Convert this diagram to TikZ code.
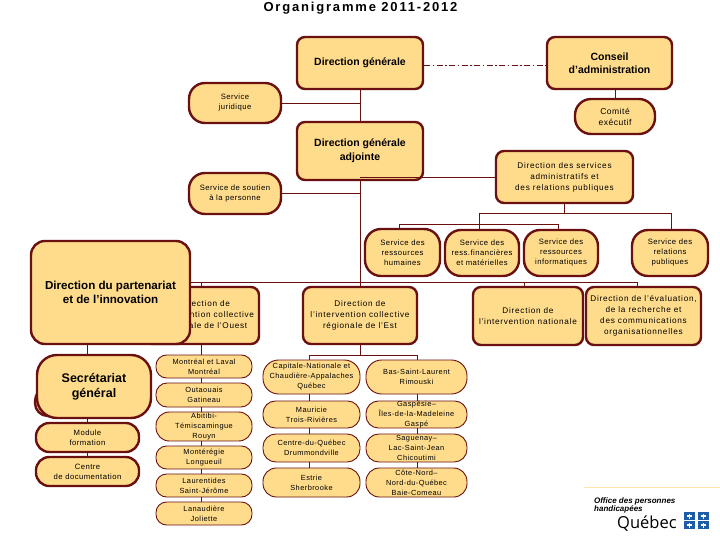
\documentclass[tikz,border=0pt]{standalone}
\usepackage{fontspec}
\setmainfont{Liberation Sans}
\newfontfamily\smallsp[LetterSpace=6]{Liberation Sans}
\newfontfamily\dirsp[LetterSpace=9]{Liberation Sans}
\newfontfamily\titlesp[LetterSpace=14]{Liberation Sans}
\newfontfamily\qcfont{Open Sans}
\definecolor{fillc}{HTML}{FFDC8C}
\definecolor{edgec}{HTML}{6B1010}
\definecolor{qcblue}{HTML}{1F5CA8}
\newcommand{\bx}[7]{%
  \pgfmathsetmacro\cxx{(#2+#4)/2}\pgfmathsetmacro\cyy{(#3+#5)/2}%
  \pgfmathsetmacro\ww{#4-#2}\pgfmathsetmacro\hh{#5-#3}%
  \pgfmathsetmacro\rr{0.46*\hh}%
  \node[#6,minimum width=\ww pt,minimum height=\hh pt] (#1) at (\cxx,\cyy) {#7};}
\tikzset{
  base/.style={draw=edgec,fill=fillc,align=center,inner sep=0pt,text=black},
  big/.style={base,line width=2.4pt,rounded corners=8pt,font=\bfseries\fontsize{10.5}{13.5}\selectfont},
  dirbox/.style={base,line width=2.4pt,rounded corners=8pt,font=\dirsp\fontsize{8.2}{11}\selectfont},
  svc/.style={base,line width=2.4pt,rounded corners=16pt,font=\smallsp\fontsize{7.7}{10}\selectfont},
  pill/.style={base,line width=2.4pt,rounded corners=\rr pt,font=\smallsp\fontsize{7.7}{10}\selectfont},
  thin pill/.style={base,line width=0.9pt,rounded corners=\rr pt,font=\smallsp\fontsize{7.4}{10}\selectfont},
  link/.style={draw=edgec,line width=0.9pt},
}
\begin{document}
\begin{tikzpicture}[x=1pt,y=-1pt]
\useasboundingbox (0,0) rectangle (720,540);
\fill[white] (0,0) rectangle (720,540);
\node[font=\titlesp\bfseries\fontsize{13}{14}\selectfont,inner sep=0pt] (title) at (360.5,8) {Organigramme 2011-2012};
% top
\bx{dg}{297}{37}{423}{89}{big}{Direction générale}
\bx{ca}{547}{37}{672}{89}{big}{Conseil\\d’administration}
\bx{sj}{189}{83}{281}{123}{svc}{Service\\juridique}
\bx{ce}{575}{99}{655}{134}{pill,font=\smallsp\fontsize{8.5}{11}\selectfont}{Comité\\exécutif}
\bx{dga}{297}{122}{423}{180}{big,font=\bfseries\fontsize{10.5}{14}\selectfont}{Direction générale\\adjointe}
\bx{sp}{189}{173}{281}{214}{svc}{Service de soutien\\à la personne}
\bx{dadm}{496}{151}{633}{203}{dirbox}{Direction des services\\administratifs et\\des relations publiques}
% services
\bx{srh}{365}{229}{440}{276}{svc}{Service des\\ressources\\humaines}
\bx{srf}{445}{230}{519}{276}{svc}{Service des\\ress.financières\\et matérielles}
\bx{sri}{524}{230}{598}{276}{svc}{Service des\\ressources\\informatiques}
\bx{srp}{632}{230}{708}{276}{svc}{Service des\\relations\\publiques}
% directions
\bx{dest}{303}{287}{417}{344}{dirbox}{Direction de\\l’intervention collective\\régionale de l’Est}
\bx{dnat}{473}{287}{583}{345}{dirbox}{Direction de\\l’intervention nationale}
\bx{deval}{586}{287}{701}{345}{dirbox}{Direction de l’évaluation,\\de la recherche et\\des communications\\organisationnelles}
\bx{dou}{144}{287}{259}{344}{dirbox}{\hspace*{6pt}Direction de\\\hspace*{6pt}l’intervention collective\\\hspace*{6pt}régionale de l’Ouest}
\bx{dpart}{31}{241}{190}{344}{big,rounded corners=14pt,font=\bfseries\fontsize{11.6}{14}\selectfont}{Direction du partenariat\\et de l’innovation}
% left column
\bx{hid}{35}{388}{110}{416}{pill}{}
\bx{sec}{37}{355}{151}{418}{base,line width=2.4pt,rounded corners=20pt,font=\bfseries\fontsize{12.5}{15}\selectfont}{Secrétariat\\général}
\bx{mod}{36}{423}{139}{452}{pill}{Module\\formation}
\bx{doc}{36}{457}{139}{486}{pill}{Centre\\de documentation}
% Ouest
\bx{o1}{156}{355}{252}{378}{thin pill}{Montréal et Laval\\Montréal}
\bx{o2}{156}{383}{252}{407}{thin pill}{Outaouais\\Gatineau}
\bx{o3}{156}{412}{252}{441}{thin pill}{Abitibi-\\Témiscamingue\\Rouyn}
\bx{o4}{156}{446}{252}{469}{thin pill}{Montérégie\\Longueuil}
\bx{o5}{156}{474}{252}{497}{thin pill}{Laurentides\\Saint-Jérôme}
\bx{o6}{156}{502}{252}{525}{thin pill}{Lanaudière\\Joliette}
% Est
\bx{e1}{263}{360}{360}{394}{thin pill}{Capitale-Nationale et\\Chaudière-Appalaches\\Québec}
\bx{e2}{263}{401}{360}{428}{thin pill}{Mauricie\\Trois-Rivières}
\bx{e3}{263}{434}{360}{462}{thin pill}{Centre-du-Québec\\Drummondville}
\bx{e4}{263}{468}{360}{497}{thin pill}{Estrie\\Sherbrooke}
\bx{f1}{366}{360}{467}{394}{thin pill}{Bas-Saint-Laurent\\Rimouski}
\bx{f2}{366}{401}{467}{428}{thin pill}{Gaspésie–\\Îles-de-la-Madeleine\\Gaspé}
\bx{f3}{366}{434}{467}{462}{thin pill}{Saguenay–\\Lac-Saint-Jean\\Chicoutimi}
\bx{f4}{366}{468}{467}{497}{thin pill}{Côte-Nord–\\Nord-du-Québec\\Baie-Comeau}
% junctions
\coordinate (main) at (360,0);
\coordinate (busA) at (479,213);
\coordinate (busAr) at (671,213);
\coordinate (busAd) at (564,213);
\coordinate (busB) at (399,224);
\coordinate (busBr) at (558,224);
\coordinate (busC) at (201,282);
\coordinate (busCr) at (637,282);
\coordinate (busCn) at (524,282);
\coordinate (busE) at (309,355);
\coordinate (busEr) at (417,355);
\coordinate (lc) at (87,0);
% connectors
\draw[link,dash pattern=on 6pt off 2.5pt on 1.5pt off 2.5pt] (dg.east |- 0,65) -- (ca.west |- 0,65);
\draw[link] (ca.south -| ce.north) -- (ce.north);
\draw[link] (main |- dg.south) -- (main |- dga.north);
\draw[link] (sj.east) -- (main |- sj.east);
\draw[link] (main |- dga.south) -- (main |- dest.north);
\draw[link] (sp.east) -- (main |- sp.east);
\draw[link] (main |- dadm.west) -- (dadm.west);
\draw[link] (busAd |- dadm.south) -- (busAd);
\draw[link] (busA) -- (busAr) -- (busAr |- srp.north);
\draw[link] (busA) -- (busA |- srf.north);
\draw[link] (busB |- srh.north) -- (busB) -- (busBr) -- (busBr |- sri.north);
\draw[link] (dpart.east |- busC) -- (busCr) -- (busCr |- deval.north);
\draw[link] (busCn) -- (busCn |- dnat.north);
\draw[link] (busC) -- (busC |- dou.north);
\draw[link] (busC |- dou.south) -- (busC |- o1.north);
\draw[link] (busC |- o1.south) -- (busC |- o2.north);
\draw[link] (busC |- o2.south) -- (busC |- o3.north);
\draw[link] (busC |- o3.south) -- (busC |- o4.north);
\draw[link] (busC |- o4.south) -- (busC |- o5.north);
\draw[link] (busC |- o5.south) -- (busC |- o6.north);
\draw[link] (lc |- dpart.south) -- (lc |- sec.north);
\draw[link] (lc |- sec.south) -- (lc |- mod.north);
\draw[link] (lc |- mod.south) -- (lc |- doc.north);
\draw[link] (main |- dest.south) -- (main |- busE);
\draw[link] (busE |- e1.north) -- (busE) -- (busEr) -- (busEr |- f1.north);
\draw[link] (busE |- e1.south) -- (busE |- e2.north);
\draw[link] (busE |- e2.south) -- (busE |- e3.north);
\draw[link] (busE |- e3.south) -- (busE |- e4.north);
\draw[link] (busEr |- f1.south) -- (busEr |- f2.north);
\draw[link] (busEr |- f2.south) -- (busEr |- f3.north);
\draw[link] (busEr |- f3.south) -- (busEr |- f4.north);
% logo
\draw[draw=fillc!70!white,line width=0.8pt] (584,487) -- (720,487);
\node[anchor=west,align=left,inner sep=0pt,font=\bfseries\itshape\fontsize{8}{7.5}\selectfont] (off) at (594,505.5) {Office des personnes\\handicapées};
\node[anchor=base west,inner sep=0pt,font=\qcfont\fontsize{16.5}{20}\selectfont] (qc) at (617,528) {Québec};
\foreach \fx/\fy in {684/512,698/512,684/521,698/521}{
  \fill[qcblue] (\fx,\fy) rectangle ++(11,8);
  \fill[white] (\fx+5,\fy+1.5) rectangle ++(1.4,5);
  \fill[white] (\fx+3.2,\fy+3.4) rectangle ++(5,1.3);
}
\end{tikzpicture}
\end{document}
